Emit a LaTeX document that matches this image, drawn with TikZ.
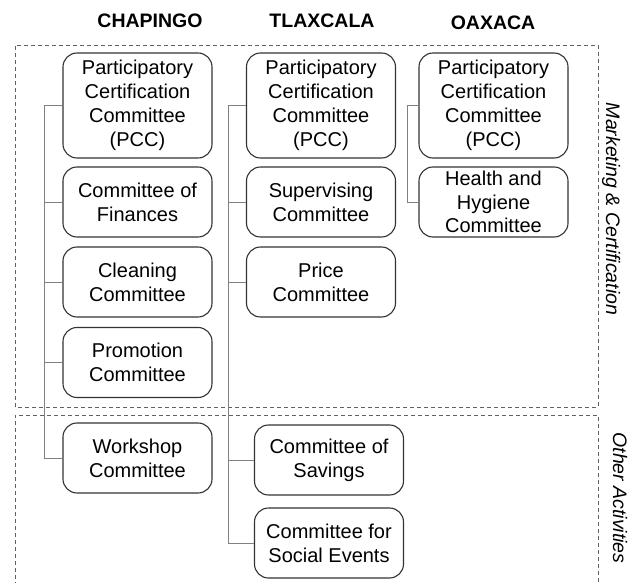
\documentclass[tikz,border=0pt]{standalone}
\usepackage{fontspec}
\setmainfont{Liberation Sans}
\begin{document}
\begin{tikzpicture}[x=1pt,y=-1pt,
  cbox/.style={draw=black!80, line width=1.1pt, rounded corners=14pt, align=center,
    minimum width=149pt, minimum height=70pt, inner sep=0pt,
    font=\fontsize{20}{24}\selectfont},
  tallbox/.style={cbox, minimum height=105pt},
  conn/.style={draw=black!50, line width=0.8pt},
  region/.style={draw=black!62, line width=0.8pt, dash pattern=on 4pt off 3pt},
  head/.style={font=\fontsize{19.5}{23}\selectfont\bfseries, anchor=base},
  side/.style={font=\fontsize{19.5}{23}\selectfont\itshape, rotate=-90, anchor=base}
]
\useasboundingbox (0,0) rectangle (635,583);

% regions
\draw[region] (15,407) -- (15,45) -- (598,45) -- (598,407) -- cycle;
\draw[region] (15,600) -- (15,415) -- (598,415) -- (598,600);

% headings
\node[head] (hc) at (150,28) {CHAPINGO};
\node[head] (ht) at (322,28) {TLAXCALA};
\node[head] (ho) at (493,30) {OAXACA};

% side labels
\node[side] (lm) at (606,209) {Marketing \& Certification};
\node[side] (la) at (613,498) {Other Activities};

% Chapingo
\node[tallbox] (c1) at (137.5,105.5) {Participatory\\Certification\\Committee\\(PCC)};
\node[cbox] (c2) at (137.5,202) {Committee of\\Finances};
\node[cbox] (c3) at (137.5,282) {Cleaning\\Committee};
\node[cbox] (c4) at (137.5,362.5) {Promotion\\Committee};
\node[cbox] (c5) at (137.5,458) {Workshop\\Committee};

% Tlaxcala
\node[tallbox] (t1) at (321,105.5) {Participatory\\Certification\\Committee\\(PCC)};
\node[cbox] (t2) at (321,202) {Supervising\\Committee};
\node[cbox] (t3) at (321,282) {Price\\Committee};
\node[cbox] (t4) at (329,460) {Committee of\\Savings};
\node[cbox] (t5) at (329,543) {Committee for\\Social Events};

% Oaxaca
\node[tallbox] (o1) at (493.5,105.5) {Participatory\\Certification\\Committee\\(PCC)};
\node[cbox, font=\fontsize{20}{23.5}\selectfont] (o2) at (493.5,202) {Health and\\Hygiene\\Committee};

% spines
\coordinate (cs) at (44,0);
\coordinate (ts) at (228,0);
\coordinate (os) at (407,0);

\draw[conn] (c1.west) -| (cs |- c5.west) -- (c5.west);
\foreach \n in {c2,c3,c4} \draw[conn] (\n.west) -- (cs |- \n.west);

\draw[conn] (t1.west) -| (ts |- t5.west) -- (t5.west);
\foreach \n in {t2,t3,t4} \draw[conn] (\n.west) -- (ts |- \n.west);

\draw[conn] (o1.west) -| (os |- o2.west) -- (o2.west);
\end{tikzpicture}
\end{document}
